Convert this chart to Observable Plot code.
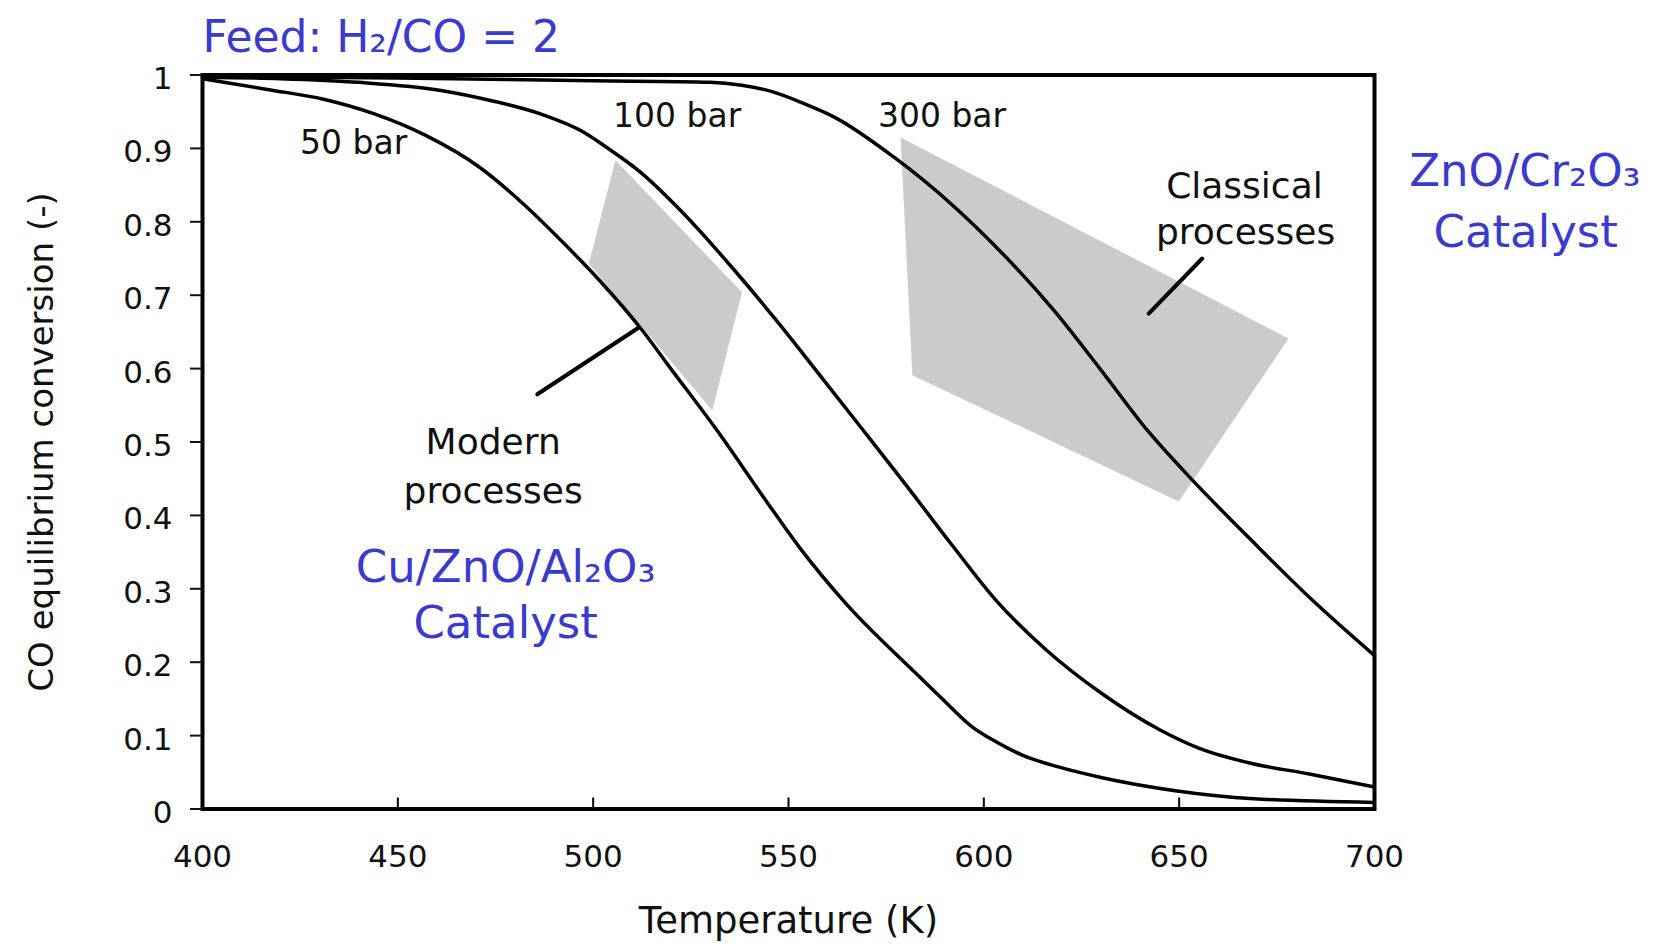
<!DOCTYPE html>
<html><head><meta charset="utf-8">
<script src="https://cdn.jsdelivr.net/npm/d3@7"></script>
<script src="https://cdn.jsdelivr.net/npm/@observablehq/plot@0.6"></script>
<style>
html,body{margin:0;padding:0;background:#fff;}
#chart{width:1657px;height:947px;overflow:hidden;}
</style></head><body><div id="chart"></div>
<script>
// ---- data ----
const xTicks = [400, 450, 500, 550, 600, 650, 700];
const yTicks = [0, 0.1, 0.2, 0.3, 0.4, 0.5, 0.6, 0.7, 0.8, 0.9, 1];

const temps50 = [400,417,431,444,457,471,482,493,502,512,520,531,544.5,553,565,581,589,597,603,610,620,630,649,669,700];
const conv50  = [0.995,0.980,0.967,0.947,0.918,0.874,0.825,0.768,0.718,0.656,0.599,0.521,0.418,0.355,0.278,0.193,0.152,0.112,0.092,0.073,0.056,0.043,0.025,0.014,0.009];

const temps100 = [400,420,440,461,474,486.5,497.6,503,512,523,536,547,557,570,580,591.5,603,615.7,630,645,655,668.6,683,700];
const conv100  = [0.997,0.995,0.990,0.979,0.965,0.947,0.922,0.903,0.868,0.812,0.735,0.665,0.598,0.510,0.442,0.362,0.285,0.218,0.158,0.108,0.083,0.062,0.048,0.030];

const temps300 = [400,450,500,530,538,546,554,561.6,577,591.5,604,618,630,642,653.4,668.7,684,700];
const conv300  = [0.998,0.996,0.992,0.990,0.986,0.977,0.961,0.943,0.888,0.825,0.761,0.679,0.598,0.515,0.448,0.365,0.285,0.209];

// shaded process windows (temperature, conversion)
const modernT = [505.7, 538.1, 530.5, 498.9];
const modernV = [0.884, 0.704, 0.543, 0.743];
const classicalT = [578.7, 678, 649.9, 581.7];
const classicalV = [0.915, 0.641, 0.419, 0.591];

// leader lines
const leaderT1 = [485.7, 642.2];
const leaderV1 = [0.565, 0.675];
const leaderT2 = [511.7, 655.9];
const leaderV2 = [0.656, 0.750];

// labels
const curveLabels = ["50 bar", "100 bar", "300 bar"];
const curveLabelT = [438.7, 521.5, 589.3];
const curveLabelV = [0.907, 0.943, 0.943];

const processLabels = ["Modern", "processes", "Classical", "processes"];
const processLabelT = [474.4, 474.4, 666.7, 667];
const processLabelV = [0.499, 0.433, 0.848, 0.786];

const catalystLabels = ["Cu/ZnO/Al₂O₃", "Catalyst", "ZnO/Cr₂O₃", "Catalyst"];
const catalystLabelT = [477.6, 477.6, 738.5, 738.7];
const catalystLabelV = [0.329, 0.253, 0.868, 0.785];

const titleText = "Feed: H₂/CO = 2";
const titleT = 400;
const titleV = 1.0504;

const xLabel = "Temperature (K)";
const yLabel = "CO equilibrium conversion (-)";

// ---- build tables ----
const curves = [
  ...temps50.map((t, i) => ({series: "50 bar", T: t, V: conv50[i]})),
  ...temps100.map((t, i) => ({series: "100 bar", T: t, V: conv100[i]})),
  ...temps300.map((t, i) => ({series: "300 bar", T: t, V: conv300[i]}))
];
const polys = [
  ...modernT.map((t, i) => ({z: "modern", T: t, V: modernV[i]})),
  ...classicalT.map((t, i) => ({z: "classical", T: t, V: classicalV[i]}))
];
const leaders = leaderT1.map((t, i) => ({T1: t, V1: leaderV1[i], T2: leaderT2[i], V2: leaderV2[i]}));
const cLabels = curveLabels.map((s, i) => ({s, T: curveLabelT[i], V: curveLabelV[i]}));
const pLabels = processLabels.map((s, i) => ({s, T: processLabelT[i], V: processLabelV[i]}));
const kLabels = catalystLabels.map((s, i) => ({s, T: catalystLabelT[i], V: catalystLabelV[i]}));

const W = 1657, H = 947, mL = 202, mR = 283, mT = 74.5, mB = 138.5;
const plotH = H - mT - mB;
const BLUE = "#3a3acf";

const chart = Plot.plot({
  width: W, height: H,
  marginLeft: mL, marginRight: mR, marginTop: mT, marginBottom: mB,
  style: {fontFamily: "'DejaVu Sans', sans-serif", fontSize: "31px", color: "#111", background: "#fff", overflow: "visible"},
  x: {domain: [400, 700], label: null, axis: null},
  y: {domain: [0, 1], label: null, axis: null},
  marks: [
    Plot.line(polys, {x: "T", y: "V", z: "z", fill: "#cbcbcb", stroke: "none", curve: "linear-closed"}),
    Plot.line(curves, {x: "T", y: "V", z: "series", stroke: "#000", strokeWidth: 3.5, curve: "monotone-x"}),
    Plot.link(leaders, {x1: "T1", y1: "V1", x2: "T2", y2: "V2", stroke: "#000", strokeWidth: 4, strokeLinecap: "round"}),
    Plot.frame({stroke: "#000", strokeWidth: 4}),
    Plot.tickX(xTicks, {x: d => d, insetTop: plotH - 11, stroke: "#000", strokeWidth: 2}),
    Plot.axisY({ticks: yTicks, tickSize: 12, tickFormat: () => "", strokeWidth: 2, label: null}),
    Plot.axisY({ticks: yTicks, tickSize: 0, tickPadding: 30, dy: 4, fontSize: 31, fill: "#111",
      tickFormat: d => String(+d.toFixed(1)), label: null, ariaLabel: "ylabels"}),
    Plot.axisX({ticks: xTicks, tickSize: 0, tickPadding: 36, fontSize: 31, fill: "#111",
      tickFormat: d => String(d), label: null, ariaLabel: "xlabels"}),
    Plot.text(cLabels, {x: "T", y: "V", text: "s", fontSize: 33, fill: "#111", lineAnchor: "middle", ariaLabel: "curve labels"}),
    Plot.text(pLabels, {x: "T", y: "V", text: "s", fontSize: 36, fill: "#111", lineAnchor: "middle", ariaLabel: "process labels"}),
    Plot.text(kLabels, {x: "T", y: "V", text: "s", fontSize: 45, fill: BLUE, lineAnchor: "middle", ariaLabel: "catalyst labels"}),
    Plot.text([titleText], {x: titleT, y: titleV, text: d => d, fontSize: 44, fill: BLUE, textAnchor: "start", lineAnchor: "middle", ariaLabel: "title"}),
    Plot.text([xLabel], {frameAnchor: "bottom", text: d => d, dy: 112, fontSize: 37, fill: "#111", textAnchor: "middle", lineAnchor: "middle", ariaLabel: "x label"}),
    Plot.text([yLabel], {frameAnchor: "left", text: d => d, dx: -160, rotate: -90, fontSize: 34, fill: "#111", textAnchor: "middle", lineAnchor: "middle", ariaLabel: "y label"})
  ]
});

document.getElementById("chart").appendChild(chart);
const sel = d3.select(chart);
sel.selectAll('g[aria-label="ylabels"] text').style("letter-spacing", "3px");
sel.selectAll('g[aria-label="xlabels"] text').style("letter-spacing", "3px");
sel.selectAll('g[aria-label="curve labels"] text').style("letter-spacing", "1px");
sel.selectAll('g[aria-label="process labels"] text').style("letter-spacing", "3.5px");
sel.selectAll('g[aria-label="x label"] text').style("letter-spacing", "2.5px");
</script>
</body></html>
